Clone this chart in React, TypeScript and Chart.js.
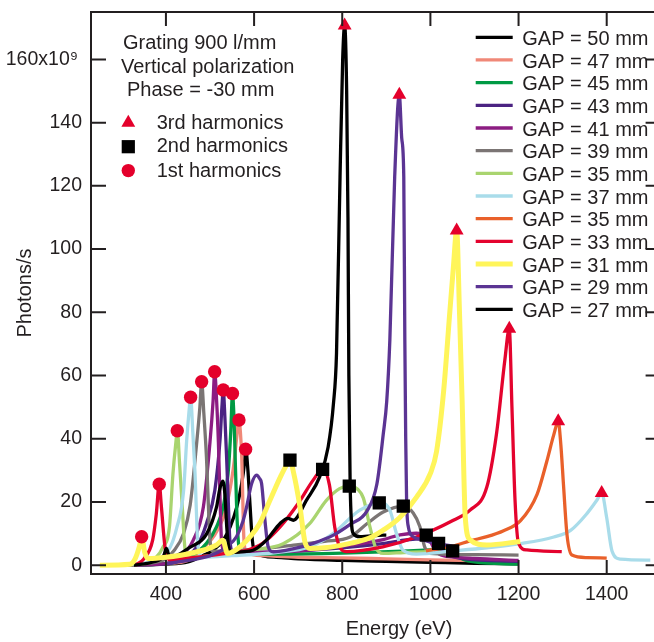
import React, { useEffect, useRef } from 'react';
import { Chart, registerables } from 'chart.js';

Chart.register(...registerables);

const FONT = '"Liberation Sans", Arial, Helvetica, sans-serif';
const INK = '#231F20';
const RED = '#E4002B';

const X_TICKS = [400, 600, 800, 1000, 1200, 1400];
const Y_TICKS = [0, 20, 40, 60, 80, 100, 120, 140, 160];

const GAP_LABELS = [
  'GAP = 50 mm', 'GAP = 47 mm', 'GAP = 45 mm', 'GAP = 43 mm', 'GAP = 41 mm',
  'GAP = 39 mm', 'GAP = 35 mm', 'GAP = 37 mm', 'GAP = 35 mm', 'GAP = 33 mm',
  'GAP = 31 mm', 'GAP = 29 mm', 'GAP = 27 mm',
];
const GAP_COLORS = [
  '#000000', '#F08878', '#009A44', '#4B2382', '#8C1D82',
  '#7B7574', '#A9D46F', '#A9DCEA', '#E9602A', '#E4032E',
  '#FFF55A', '#5B3493', '#000000',
];

const NOTE_LINES = ['Grating 900 l/mm', 'Vertical polarization', 'Phase = -30 mm'];
const HARM_LABELS = ['3rd harmonics', '2nd harmonics', '1st harmonics'];

// GAP 50
const gap50E = [300, 400, 450, 477, 508, 530, 546, 561, 572, 578, 581, 586, 591, 596, 602, 650, 700, 800, 900, 1000, 1100, 1200];
const gap50F = [0, 0.3, 1, 2.6, 4.8, 7.9, 12.2, 18.5, 25.9, 32, 36.7, 30, 18.5, 8, 4, 2.5, 2, 1.5, 1.2, 0.9, 0.6, 0.4];
// GAP 47
const gap47E = [300, 400, 450, 477, 508, 530, 545, 555, 561, 565.6, 569, 572, 577, 583, 620, 700, 800, 900, 1000, 1100, 1200];
const gap47F = [0, 0.5, 1.5, 4.5, 9, 15, 23.7, 33, 41, 45.9, 42, 34, 8, 4, 3, 2.5, 2.3, 2, 1.7, 1.4, 1.1];
// GAP 45
const gap45E = [300, 400, 454, 492, 515, 530, 541, 547, 551, 554, 556, 560, 564, 571, 650, 800, 950, 1020, 1040, 1050, 1060, 1075, 1100, 1200];
const gap45F = [0, 0.5, 2.6, 6.9, 12.2, 18.5, 29, 42, 54.3, 48, 39.6, 20, 8, 4, 3.5, 3.8, 4.5, 5, 5.2, 4.5, 3, 1.8, 1, 0.3];
// GAP 43
const gap43E = [300, 400, 447, 470, 492, 511, 522.7, 527, 530, 534, 537.7, 542, 545, 553, 650, 800, 900, 960, 990, 1010, 1018.5, 1028, 1045, 1080, 1200];
const gap43F = [0, 0.4, 2.6, 5.8, 13.2, 23.7, 39.6, 50, 55.4, 46, 34, 18, 8, 4, 4.2, 5.5, 7, 8.2, 8.3, 7.8, 6.9, 4.5, 3, 2, 1.2];
// GAP 41
const gap41E = [300, 400, 432, 462, 485, 500, 507, 510.5, 515, 519, 523, 526, 534, 600, 700, 800, 893, 931, 968, 990.6, 1000, 1006, 1020, 1050, 1100, 1200];
const gap41F = [0, 0.5, 2.6, 7.9, 18.5, 39, 52, 61.2, 52, 39, 20, 8, 4, 4, 4.5, 6, 8.1, 9.6, 10.1, 9.5, 7.5, 5.8, 3.5, 2.6, 2.1, 1.5];
// GAP 39
const gap39E = [300, 394, 417, 440, 455, 470, 477, 481, 486, 492, 496, 500, 507, 600, 700, 760, 818, 856, 893, 938.5, 961, 976, 987, 999, 1100, 1200];
const gap39F = [0, 1.6, 4.4, 10, 19, 39, 50, 58, 48, 34, 20, 8, 4.4, 5, 6.5, 7.5, 8.9, 13.1, 16.8, 18.7, 16.5, 12.2, 5.8, 3.7, 3.3, 3.2];
// GAP 35 (light green)
const gap35aE = [300, 350, 378, 393, 408, 416, 422, 426, 431, 436, 444, 454, 500, 550, 591, 666, 726, 764, 794, 816, 835, 848, 863, 875, 893, 940, 1000];
const gap35aF = [0, 0.5, 2.5, 5.6, 12.2, 29, 38, 42.5, 32, 21, 4.5, 2.5, 3, 3.8, 4.7, 6.8, 13.1, 20.5, 24.2, 25.1, 24, 21.2, 12, 5.8, 3.7, 4, 4.3];
// GAP 37
const gap37E = [300, 379, 409, 424.5, 440, 447, 452, 456, 461, 466, 473, 485, 550, 650, 727, 779, 840, 884, 908, 923, 938, 968, 1052, 1128, 1204, 1280, 1318, 1355, 1378, 1388.6, 1400, 1412, 1431, 1499];
const gap37F = [0, 1.6, 5.5, 11.8, 23.4, 39.3, 48, 53.1, 42, 29, 5.6, 2.5, 3, 4, 5.8, 10, 17.4, 19.7, 17.4, 10, 4.7, 3.5, 4.5, 5.5, 6.8, 8.9, 11, 16.3, 20.6, 22.8, 15, 4.5, 1.9, 1.6];
// GAP 35 (orange)
const gap35bE = [990, 1050, 1090, 1128, 1166, 1204, 1242, 1264, 1280, 1290, 1296, 1302, 1310, 1321, 1355, 1400];
const gap35bF = [4.5, 6, 7.7, 9, 10.9, 14, 22.4, 32.8, 41.3, 45.5, 38, 25.3, 9.5, 3.2, 2.4, 2.2];
// GAP 33
const gap33E = [330, 350, 370, 378, 384.8, 390, 398, 410, 450, 500, 550, 583, 620, 659, 700, 734, 755.5, 771, 783, 794, 809, 892, 968, 1052, 1090, 1128, 1150, 1169, 1179, 1185, 1192, 1200, 1219, 1298];
const gap33F = [0, 2, 8, 16, 25.6, 18, 5.6, 1.6, 2.2, 3, 4, 4.7, 7, 12.1, 19.5, 26.9, 30.3, 25.3, 12, 5.8, 4.3, 5.8, 8.9, 14.2, 17.4, 24.7, 41.6, 65, 74.8, 50, 20.6, 6.9, 4.8, 4.3];
// GAP 31
const gap31E = [250, 318, 330, 340, 344.9, 352, 360, 400, 454, 514, 529, 540, 570, 591, 612, 636, 660, 675, 681.4, 690, 704, 716, 727, 760, 818, 860, 893, 930, 969, 1000, 1014, 1030, 1044, 1052, 1059.6, 1066, 1072, 1079, 1090, 1128, 1204];
const gap31F = [0, 0.3, 2, 6, 9, 4, 2.1, 2.5, 3.7, 6.3, 7.9, 3.7, 6, 9, 13, 20.5, 28, 32, 33.2, 29, 18.5, 7, 5.3, 5.5, 6.9, 8.5, 11.1, 15, 21.6, 29, 36, 55, 80, 94, 105.9, 80, 52, 15.3, 8, 6.4, 7.5];
// GAP 29
const gap29E = [400, 450, 500, 540, 560, 575, 583, 594.5, 606, 612, 617, 624.6, 632, 643.5, 690, 734, 780, 818, 856, 878.5, 893, 901, 908, 919, 929.5, 935, 939.6, 942, 944, 946, 950, 961, 984, 1010, 1050];
const gap29F = [0.5, 1.5, 3, 6, 9, 14, 18.4, 25.8, 28.5, 27.5, 25.8, 14.2, 5.8, 4.2, 5.2, 6.9, 9.5, 12.9, 17.1, 25.6, 41.4, 52, 71.2, 122.9, 148.8, 135, 122.9, 71.2, 40, 20.6, 12.1, 9, 8, 7, 6];
// GAP 27
const gap27E = [327, 370, 395, 401, 407, 413, 454, 492, 515, 522, 529, 534, 538, 542, 549, 570, 598, 628, 659, 677, 689, 719, 749, 768, 780, 787, 795, 801, 805.5, 810, 813, 815, 818, 825, 840, 893, 900];
const gap27F = [0, 1, 3, 5.3, 3, 2.6, 5.6, 9.8, 18.5, 24, 26.6, 22, 12, 6, 4, 4.2, 4.7, 7.9, 13.2, 14.8, 14.2, 20.6, 28, 37.4, 51, 67, 122.9, 160, 170.7, 150, 110, 60, 25, 10, 9, 9.5, 9.5];

// harmonic markers
const HARM3_E = [805.5, 929.5, 1059.6, 1179, 1290, 1388.6];
const HARM3_F = [170.7, 148.8, 105.9, 74.8, 45.5, 22.8];
const HARM2_E = [681.4, 755.5, 816, 884, 938.5, 990.6, 1018.6, 1050.5];
const HARM2_F = [33.2, 30.3, 25.0, 19.7, 18.7, 9.5, 6.9, 4.5];
const HARM1_E = [344.9, 384.8, 425.7, 456, 481, 510.5, 530, 551, 565.6, 580.8];
const HARM1_F = [9.0, 25.6, 42.5, 53.1, 58, 61.2, 55.4, 54.3, 45.9, 36.7];

const SERIES_E = [gap50E, gap47E, gap45E, gap43E, gap41E, gap39E, gap35aE, gap37E, gap35bE, gap33E, gap31E, gap29E, gap27E];
const SERIES_F = [gap50F, gap47F, gap45F, gap43F, gap41F, gap39F, gap35aF, gap37F, gap35bF, gap33F, gap31F, gap29F, gap27F];

const pts = (e: number[], f: number[]) => e.map((x, i) => ({ x, y: f[i] }));

const TICK = 14;

const drawTri = (ctx: CanvasRenderingContext2D, x: number, y: number, r: number) => {
  ctx.beginPath();
  ctx.moveTo(x, y - r);
  ctx.lineTo(x + r * Math.sin((2 * Math.PI) / 3), y + r / 2);
  ctx.lineTo(x - r * Math.sin((2 * Math.PI) / 3), y + r / 2);
  ctx.closePath();
  ctx.fill();
};

const decorPlugin = {
  id: 'decor',
  afterDraw(chart: any) {
    const { ctx, chartArea: a, scales } = chart;
    const xs = scales.x;
    const ys = scales.y;
    ctx.save();
    // frame
    ctx.strokeStyle = INK;
    ctx.lineWidth = 2;
    ctx.strokeRect(a.left, a.top, a.right - a.left, a.bottom - a.top);
    ctx.beginPath();
    X_TICKS.forEach((v) => {
      const p = xs.getPixelForValue(v);
      ctx.moveTo(p, a.bottom);
      ctx.lineTo(p, a.bottom - TICK);
      ctx.moveTo(p, a.top);
      ctx.lineTo(p, a.top + TICK);
    });
    Y_TICKS.forEach((v) => {
      const p = ys.getPixelForValue(v);
      ctx.moveTo(a.left, p);
      ctx.lineTo(a.left + TICK + 1, p);
      ctx.moveTo(a.right, p);
      ctx.lineTo(a.right - TICK, p);
    });
    ctx.stroke();

    // x title
    ctx.fillStyle = INK;
    ctx.font = `20px ${FONT}`;
    ctx.textAlign = 'center';
    ctx.textBaseline = 'alphabetic';
    ctx.fillText('Energy (eV)', a.left + 308, 635);

    // notes
    ctx.textAlign = 'left';
    const noteX = [a.left + 32, a.left + 30, a.left + 36];
    const noteY = [49, 72.7, 95.7];
    NOTE_LINES.forEach((t, i) => ctx.fillText(t, noteX[i], noteY[i]));

    // harmonic legend
    const mx = a.left + 37.3;
    ctx.fillStyle = RED;
    drawTri(ctx, mx, 122.8, 8);
    ctx.fillStyle = '#000';
    ctx.fillRect(mx - 6.6, 146.7 - 6.6, 13.2, 13.2);
    ctx.fillStyle = RED;
    ctx.beginPath();
    ctx.arc(mx, 170.6, 6.7, 0, Math.PI * 2);
    ctx.fill();
    ctx.fillStyle = INK;
    const hy = [129, 152.3, 176.5];
    HARM_LABELS.forEach((t, i) => ctx.fillText(t, a.left + 65.7, hy[i]));

    // GAP legend
    const gaps = chart.data.datasets.filter((d: any) => d.gap);
    gaps.forEach((d: any, i: number) => {
      const y = 37.3 + i * 22.67;
      ctx.strokeStyle = d.borderColor;
      ctx.lineWidth = d.borderWidth;
      ctx.beginPath();
      ctx.moveTo(475.7, y);
      ctx.lineTo(512.7, y);
      ctx.stroke();
      ctx.fillStyle = INK;
      ctx.fillText(d.label, 522.3, y + 7.6);
    });
    ctx.restore();
  },
};

export default function App() {
  const ref = useRef<HTMLCanvasElement>(null);
  useEffect(() => {
    const lineSets = GAP_LABELS.map((label, i) => ({
      type: 'line' as const,
      label,
      gap: true,
      data: pts(SERIES_E[i], SERIES_F[i]),
      borderColor: GAP_COLORS[i],
      backgroundColor: GAP_COLORS[i],
      borderWidth: i === 10 ? 5 : 3.3,
      pointRadius: 0,
      cubicInterpolationMode: 'monotone' as const,
      order: i === 10 ? 1 : 2 + (12 - i),
      fill: false,
    }));
    const markerSets = [
      { label: '3rd', data: pts(HARM3_E, HARM3_F), pointStyle: 'triangle', pointRadius: 8, color: RED },
      { label: '2nd', data: pts(HARM2_E, HARM2_F), pointStyle: 'rect', pointRadius: 9.4, color: '#000' },
      { label: '1st', data: pts(HARM1_E, HARM1_F), pointStyle: 'circle', pointRadius: 6.7, color: RED },
    ].map((m) => ({
      type: 'line' as const,
      label: m.label,
      data: m.data,
      showLine: false,
      pointStyle: m.pointStyle as any,
      pointRadius: m.pointRadius,
      pointBackgroundColor: m.color,
      pointBorderColor: m.color,
      pointBorderWidth: 0,
      borderColor: m.color,
      backgroundColor: m.color,
      order: 0,
    }));

    const chart = new Chart(ref.current as HTMLCanvasElement, {
      type: 'line',
      data: { datasets: [...markerSets, ...lineSets] as any },
      options: {
        responsive: false,
        animation: false,
        devicePixelRatio: 1,
        layout: { padding: { left: 0, top: 12, right: 10.4, bottom: 0 } },
        plugins: { legend: { display: false }, tooltip: { enabled: false } },
        scales: {
          x: {
            type: 'linear',
            min: 230,
            max: 1520,
            afterBuildTicks: (s: any) => {
              s.ticks = X_TICKS.map((value) => ({ value }));
            },
            afterFit: (s: any) => {
              s.height = 68;
              s.paddingLeft = 0;
              s.paddingRight = 0;
            },
            grid: { display: false, drawTicks: false },
            border: { display: false },
            ticks: {
              autoSkip: false,
              maxRotation: 0,
              padding: 9,
              color: INK,
              font: { family: FONT, size: 19.5 },
              callback: (v: any) => String(v),
            },
          },
          y: {
            type: 'linear',
            min: -2.8,
            max: 175,
            afterBuildTicks: (s: any) => {
              s.ticks = Y_TICKS.map((value) => ({ value }));
            },
            afterFit: (s: any) => {
              s.width = 91;
              s.paddingTop = 0;
              s.paddingBottom = 0;
            },
            grid: { display: false, drawTicks: false },
            border: { display: false },
            ticks: {
              padding: 9,
              color: INK,
              font: { family: FONT, size: 19.5 },
              callback: (v: any) => (v === 160 ? '160x10\u2079\u2009' : String(v)),
            },
            title: {
              display: true,
              text: 'Photons/s',
              color: INK,
              font: { family: FONT, size: 20 },
              padding: { top: 13, bottom: 0 },
            },
          },
        },
      },
      plugins: [decorPlugin],
    });
    return () => chart.destroy();
  }, []);

  return (
    <div
      style={{
        position: 'absolute',
        left: 0,
        top: 0,
        width: 654,
        height: 642,
        overflow: 'hidden',
        background: '#ffffff',
      }}
    >
      <canvas ref={ref} width={670} height={642} style={{ display: 'block' }} />
    </div>
  );
}
